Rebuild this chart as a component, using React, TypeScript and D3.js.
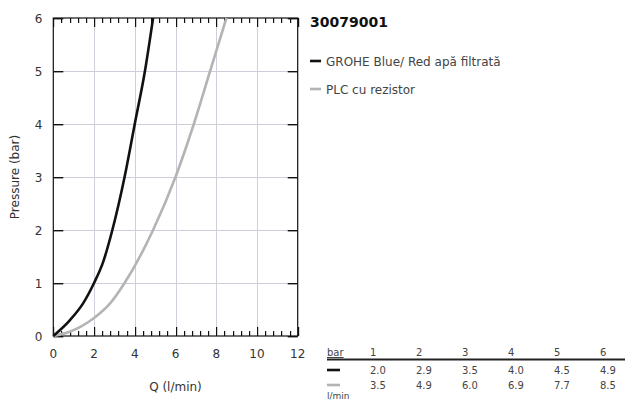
import { useRef, useEffect } from 'react';
import * as d3 from 'd3';

// Curve points (Q l/min, pressure bar)
const BLUE_RED = [
  { q: 0, p: 0 }, { q: 0.82, p: 0.3 }, { q: 1.47, p: 0.62 }, { q: 2.0, p: 1 }, { q: 2.45, p: 1.4 },
  { q: 2.9, p: 2 }, { q: 3.5, p: 3 }, { q: 4.0, p: 4 }, { q: 4.5, p: 5 }, { q: 4.9, p: 6 },
];
const PLC = [
  { q: 0, p: 0 }, { q: 0.8, p: 0.08 }, { q: 2, p: 0.34 }, { q: 2.8, p: 0.62 },
  { q: 3.5, p: 1 }, { q: 4.9, p: 2 }, { q: 6.0, p: 3 }, { q: 6.9, p: 4 }, { q: 7.7, p: 5 }, { q: 8.5, p: 6 },
];
const X_TICKS = [0, 2, 4, 6, 8, 10, 12];
const Y_TICKS = [0, 1, 2, 3, 4, 5, 6];
const TABLE_BAR = ['1', '2', '3', '4', '5', '6'];
const TABLE_ROW1 = ['2.0', '2.9', '3.5', '4.0', '4.5', '4.9'];
const TABLE_ROW2 = ['3.5', '4.9', '6.0', '6.9', '7.7', '8.5'];
const TITLE = '30079001';
const SERIES = ['GROHE Blue/ Red apă filtrată', 'PLC cu rezistor'];
const COLORS = ['#111111', '#b4b4b4'];

export default function App() {
  const ref = useRef<SVGSVGElement>(null);

  useEffect(() => {
    const svg = ref.current;
    if (!svg) return;
    const W = 625, H = 401;
    const left = 53.3, right = 297.7, top = 18, bottom = 336;
    d3.select(svg).selectAll('*').remove();
    const g = d3.select(svg).attr('viewBox', `0 0 ${W} ${H}`).append('g')
      .attr('font-family', '"DejaVu Sans", sans-serif');

    const x = d3.scaleLinear().domain([0, 12]).range([left, right]);
    const y = d3.scaleLinear().domain([0, 6]).range([bottom, top]);

    // Grid
    X_TICKS.slice(1, -1).forEach((v) => {
      g.append('rect').attr('x', Math.round(x(v))).attr('y', top).attr('width', 1).attr('height', bottom - top)
        .attr('fill', '#cfcfd9');
    });
    Y_TICKS.slice(1, -1).forEach((v) => {
      g.append('rect').attr('x', left).attr('y', Math.round(y(v))).attr('width', right - left).attr('height', 1)
        .attr('fill', '#cfcfd9');
    });

    // Ticks
    d3.range(0, 31).forEach((k) => {
      const v = k * 0.4;
      const len = k % 5 === 0 ? 9 : 5;
      g.append('rect').attr('x', Math.round(x(v))).attr('y', bottom - len).attr('width', 1.2).attr('height', len).attr('fill', '#111');
      g.append('rect').attr('x', Math.round(x(v))).attr('y', top).attr('width', 1.2).attr('height', len).attr('fill', '#111');
    });
    Y_TICKS.forEach((v) => {
      g.append('rect').attr('x', left).attr('y', Math.round(y(v))).attr('width', 10).attr('height', 1.4).attr('fill', '#111');
      g.append('rect').attr('x', right - 10).attr('y', Math.round(y(v))).attr('width', 10).attr('height', 1.4).attr('fill', '#111');
    });

    // Frame
    g.append('rect').attr('x', left).attr('y', top).attr('width', right - left).attr('height', bottom - top)
      .attr('fill', 'none').attr('stroke', '#111').attr('stroke-width', 1.2);

    // Tick labels
    X_TICKS.forEach((v) => {
      g.append('text').attr('x', x(v)).attr('y', bottom + 22).attr('text-anchor', 'middle')
        .attr('font-size', 12).attr('fill', '#333').text(v);
    });
    Y_TICKS.forEach((v) => {
      g.append('text').attr('x', left - 11).attr('y', y(v) + 4.5).attr('text-anchor', 'end')
        .attr('font-size', 12).attr('fill', '#333').text(v);
    });

    // Axis labels
    g.append('text').attr('x', (left + right) / 2).attr('y', 391).attr('text-anchor', 'middle')
      .attr('font-size', 12).attr('fill', '#333').text('Q (l/min)');
    g.append('text').attr('transform', `translate(19,${(top + bottom) / 2}) rotate(-90)`)
      .attr('text-anchor', 'middle').attr('font-size', 12).attr('fill', '#333').text('Pressure (bar)');

    // Curves
    const line = d3.line<{ q: number; p: number }>()
      .x((d) => x(d.q)).y((d) => y(d.p)).curve(d3.curveMonotoneX);
    [PLC, BLUE_RED].forEach((data, i) => {
      g.append('path').datum(data).attr('d', line).attr('fill', 'none')
        .attr('stroke', COLORS[1 - i]).attr('stroke-width', 2.6);
    });

    // Title and legend
    g.append('text').attr('x', 310).attr('y', 27).attr('font-size', 14).attr('font-weight', 'bold')
      .attr('fill', '#111').text(TITLE);
    SERIES.forEach((s, i) => {
      const ly = 61 + i * 28;
      g.append('rect').attr('x', 310).attr('y', ly - 1.3).attr('width', 11).attr('height', 2.6).attr('fill', COLORS[i]);
      g.append('text').attr('x', 326).attr('y', ly + 4.5).attr('font-size', 12).attr('fill', '#444').text(s);
    });

    // Table
    const colX = d3.scaleLinear().domain([0, 5]).range([370, 600]);
    g.append('text').attr('x', 327).attr('y', 356).attr('font-size', 10).attr('fill', '#444')
      .attr('text-decoration', 'underline').text('bar');
    TABLE_BAR.forEach((t, i) => {
      g.append('text').attr('x', colX(i)).attr('y', 356).attr('font-size', 10).attr('fill', '#444').text(t);
    });
    g.append('rect').attr('x', 327).attr('y', 358.5).attr('width', 298).attr('height', 2).attr('fill', '#222');
    [TABLE_ROW1, TABLE_ROW2].forEach((row, r) => {
      const ry = 374 + r * 15;
      g.append('rect').attr('x', 327).attr('y', ry - 5.3).attr('width', 13).attr('height', 2.6).attr('fill', COLORS[r]);
      row.forEach((t, i) => {
        g.append('text').attr('x', colX(i)).attr('y', ry).attr('font-size', 10).attr('fill', '#444').text(t);
      });
    });
    g.append('text').attr('x', 327).attr('y', 399).attr('font-size', 9).attr('fill', '#444').text('l/min');
  }, []);

  return (
    <svg ref={ref} width={625} height={401}
      style={{ position: 'absolute', left: 0, top: 0, background: '#fff' }} />
  );
}
